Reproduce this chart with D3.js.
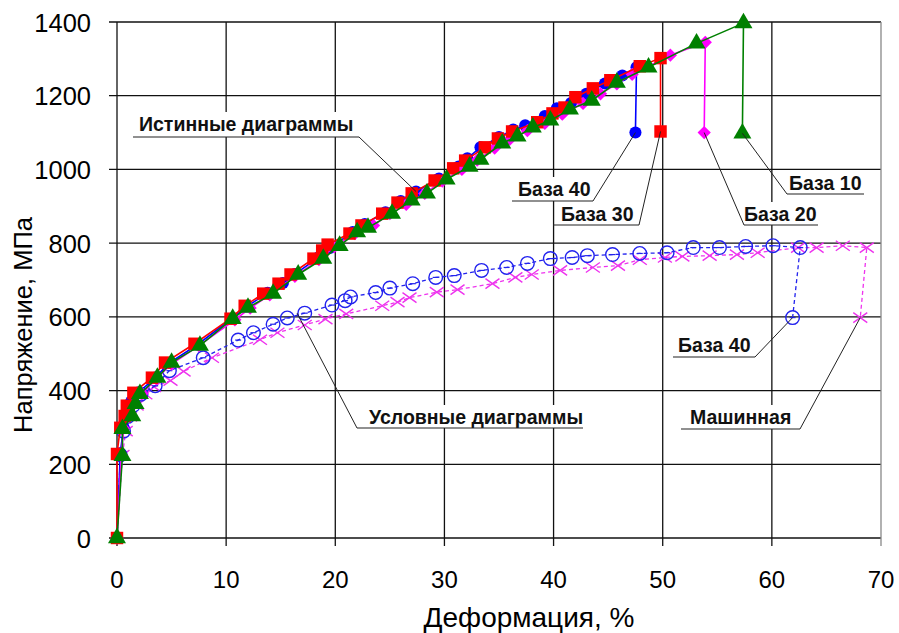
<!DOCTYPE html>
<head>
  <meta charset="utf-8">
  <script src="https://d3js.org/d3.v7.min.js"></script>
  <style>
    body { margin:0; background:#fff; }
    text { font-family: Arial, "Liberation Sans", sans-serif; }
  </style>
</head>
<body>
<script>
  // strain %, stress MPa -- true diagrams (4 gauge bases)
  var base40 = [[0,0],[0.3,230],[0.6,300],[1.0,340],[1.3,370],[2.0,395],[3.5,435],[4.8,475],[7.4,525],[10.5,595],[11.9,628],[13.8,665],[15.2,692],[16.3,716],[18.5,762],[19.5,787],[21.6,830],[22.7,852],[24.6,884],[26.0,914],[27.4,940],[29.5,975],[31.3,1008],[32.1,1030],[33.3,1060],[35.0,1088],[36.3,1108],[37.4,1120],[39.2,1145],[40.3,1166],[41.6,1180],[43.0,1205],[44.7,1233],[46.3,1255],[47.6,1277],[47.5,1100]];
  var base30 = [[0,0],[0,228],[0.3,299],[0.7,331],[0.9,359],[1.5,394],[3.2,435],[4.4,476],[7.1,527],[10.4,595],[11.7,630],[13.4,663],[14.8,690],[15.9,715],[18.0,758],[18.8,780],[19.3,796],[21.3,826],[22.4,848],[24.3,880],[25.7,910],[27.0,935],[29.1,970],[30.8,1003],[31.9,1024],[33.7,1060],[34.9,1084],[36.2,1103],[38.5,1128],[39.9,1152],[41.0,1168],[42.0,1196],[43.6,1220],[45.2,1242],[47.9,1280],[49.8,1302],[49.8,1103]];
  var base20 = [[0,0],[0.4,225],[0.6,298],[1.1,335],[1.5,362],[2.3,392],[3.6,432],[5.0,472],[7.5,522],[10.8,592],[12.2,624],[14.0,660],[16.3,710],[18.5,755],[19.9,790],[21.8,826],[23.5,848],[25.0,880],[26.5,905],[28.2,935],[29.8,968],[31.6,1000],[33.0,1025],[34.6,1058],[36.0,1082],[37.6,1105],[39.2,1125],[40.8,1150],[42.7,1179],[44.3,1205],[45.8,1232],[47.2,1258],[50.7,1310],[53.9,1345],[53.8,1100]];
  var base10 = [[0,0],[0.5,223],[0.5,296],[1.4,331],[1.7,364],[2.1,391],[3.7,435],[5.0,476],[7.6,522],[10.6,595],[12.0,625],[14.3,663],[16.6,715],[18.9,758],[20.4,793],[22.0,830],[23.0,842],[25.2,880],[27.0,916],[28.4,935],[30.2,973],[32.3,1008],[33.3,1027],[35.3,1071],[36.7,1090],[38.1,1114],[39.7,1133],[41.5,1163],[43.5,1187],[45.8,1236],[48.7,1277],[53.1,1342],[57.4,1397],[57.3,1098]];

  // conditional (engineering) diagrams
  var condBase40 = [[0,0],[0.3,225],[0.6,290],[1.0,330],[1.5,360],[2.2,390],[3.5,413],[4.8,454],[7.9,489],[11.1,537],[12.5,557],[14.3,580],[15.6,597],[17.2,610],[19.7,632],[20.9,644],[21.4,654],[23.7,666],[25.0,678],[27.1,690],[29.2,707],[30.9,712],[33.4,726],[35.7,734],[37.6,745],[39.7,758],[41.7,761],[43.1,766],[45.4,769],[47.9,772],[50.4,774],[52.8,788],[55.2,788],[57.6,791],[60.1,793],[62.6,788],[61.9,598]];
  var condMachine = [[0,0],[0.5,225],[0.8,290],[1.2,330],[1.8,360],[2.6,390],[3.4,410],[4.9,427],[6.1,452],[8.7,489],[13.1,538],[14.7,557],[17.2,578],[19.1,594],[21.0,608],[24.3,630],[25.7,640],[26.8,652],[29.3,667],[31.2,674],[34.4,690],[36.5,707],[38.0,715],[40.6,726],[43.6,734],[45.9,739],[47.9,755],[50.2,761],[51.8,764],[54.3,766],[56.8,769],[58.7,774],[62.4,788],[64.1,788],[66.5,793],[68.7,788],[68.1,598]];

  var xTicks = [0,10,20,30,40,50,60,70];
  var yTicks = [0,200,400,600,800,1000,1200,1400];

  var W = 899, H = 633;
  var svg = d3.select("body").append("svg")
    .attr("width", W).attr("height", H);

  var x = d3.scaleLinear().domain([0,70]).range([117,881]);
  var y = d3.scaleLinear().domain([0,1400]).range([538,22]);

  // grid
  svg.append("g")
    .selectAll("line.gy").data(yTicks).enter().append("line")
    .attr("x1", 109).attr("x2", x(70))
    .attr("y1", function(d){ return y(d); }).attr("y2", function(d){ return y(d); })
    .attr("stroke", "#111").attr("stroke-width", 1.3);
  svg.append("g")
    .selectAll("line.gx").data(xTicks).enter().append("line")
    .attr("x1", function(d){ return x(d); }).attr("x2", function(d){ return x(d); })
    .attr("y1", y(1400)).attr("y2", y(0) + 8)
    .attr("stroke", function(d){ return d === 70 ? "#888" : "#111"; })
    .attr("stroke-width", 1.3);

  // tick labels
  svg.append("g").selectAll("text").data(yTicks).enter().append("text")
    .attr("x", 91).attr("y", function(d){ return y(d) + 9.5; })
    .attr("text-anchor", "end").attr("font-size", 25.5)
    .text(function(d){ return d; });
  svg.append("g").selectAll("text").data(xTicks).enter().append("text")
    .attr("x", function(d){ return x(d); }).attr("y", 588)
    .attr("text-anchor", "middle").attr("font-size", 24)
    .text(function(d){ return d; });

  svg.append("text")
    .attr("transform", "translate(32,325) rotate(-90)")
    .attr("text-anchor", "middle").attr("font-size", 25.5)
    .text("Напряжение, МПа");
  svg.append("text")
    .attr("x", 529).attr("y", 627)
    .attr("text-anchor", "middle").attr("font-size", 28)
    .text("Деформация, %");

  var line = d3.line().x(function(d){ return x(d[0]); }).y(function(d){ return y(d[1]); });

  // conditional curves (dashed)
  function cond(data, color, kind) {
    svg.append("path").datum(data).attr("d", line)
      .attr("fill", "none").attr("stroke", color)
      .attr("stroke-width", 1.3).attr("stroke-dasharray", "4,3");
    var g = svg.append("g").selectAll("g").data(data.slice(1)).enter().append("g")
      .attr("transform", function(d){ return "translate(" + x(d[0]) + "," + y(d[1]) + ")"; });
    if (kind === "circle") {
      g.append("circle").attr("r", 6.8).attr("fill", "none")
        .attr("stroke", color).attr("stroke-width", 1.4);
      g.append("line").attr("x1", -3).attr("x2", 3).attr("stroke", color).attr("stroke-width", 1.2);
    } else {
      g.append("path").attr("d", "M-7,-5L7,5M-7,5L7,-5")
        .attr("stroke", color).attr("stroke-width", 1.4);
    }
  }
  cond(condMachine, "#ee33ee", "x");
  cond(condBase40, "#2222ee", "circle");

  // true curves
  function trueCurve(data, color, sym, size, rot) {
    svg.append("path").datum(data).attr("d", line)
      .attr("fill", "none").attr("stroke", color).attr("stroke-width", 1.6);
    svg.append("g").selectAll("path").data(data).enter().append("path")
      .attr("d", d3.symbol().type(sym).size(size))
      .attr("transform", function(d){ return "translate(" + x(d[0]) + "," + y(d[1]) + ") rotate(" + rot + ")"; })
      .attr("fill", color);
  }
  trueCurve(base40, "#0000ff", d3.symbolCircle, 115, 0);
  trueCurve(base20, "#ff00ff", d3.symbolSquare, 88, 45);
  trueCurve(base30, "#ff0000", d3.symbolSquare, 155, 0);
  trueCurve(base10, "#008000", d3.symbolTriangle, 140, 0);

  // callouts: text box, underline and leader to a data point
  function callout(label, tx, ty, ux1, ux2, uy, from, target, fs) {
    var g = svg.append("g");
    var t = g.append("text").attr("x", tx).attr("y", ty)
      .attr("font-size", fs).attr("font-weight", "bold").attr("fill", "#111").text(label);
    var bb = t.node().getBBox();
    g.insert("rect", "text").attr("x", bb.x - 3).attr("y", bb.y - 1)
      .attr("width", bb.width + 6).attr("height", uy - bb.y + 1).attr("fill", "#fff");
    g.append("line").attr("x1", ux1).attr("x2", ux2).attr("y1", uy).attr("y2", uy)
      .attr("stroke", "#222").attr("stroke-width", 1.2);
    g.append("line").attr("x1", from).attr("y1", uy)
      .attr("x2", x(target[0])).attr("y2", y(target[1]))
      .attr("stroke", "#222").attr("stroke-width", 1);
  }
  callout("Истинные диаграммы", 139, 131, 133, 359, 137, 359, [27.4, 940], 19.5);
  callout("База 40", 518, 196, 512, 593, 201, 593, [47.5, 1100], 19.5);
  callout("База 30", 561, 221, 553, 639, 225, 639, [49.8, 1103], 19.5);
  callout("База 20", 744, 221, 744, 818, 225, 744, [53.8, 1100], 19.5);
  callout("База 10", 789, 190, 787, 864, 194, 787, [57.3, 1098], 19.5);
  callout("База 40", 678, 352, 673, 755, 357, 755, [61.9, 598], 19.5);
  callout("Машинная", 690, 424, 681, 800, 429, 800, [68.1, 598], 19.5);
  callout("Условные диаграммы", 369, 424, 357, 583, 428, 357, [16.5, 610], 19.5);
</script>
</body>
